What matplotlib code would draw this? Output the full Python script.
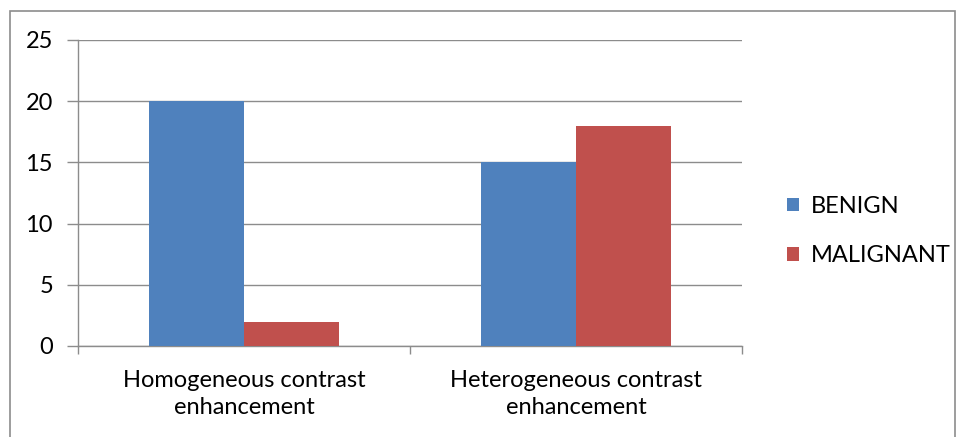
import numpy as np
import matplotlib
matplotlib.use("Agg")
import matplotlib.pyplot as plt
from matplotlib.patches import Rectangle

# enhancement pattern vs. lesion outcome (counts)
categories = ["Homogeneous contrast\nenhancement", "Heterogeneous contrast\nenhancement"]
benign = [20, 15]
malignant = [2, 18]
series_names = ["BENIGN", "MALIGNANT"]
yticks = [0, 5, 10, 15, 20, 25]

BLUE = "#4f81bd"
RED = "#c0504d"
GRID = "#8c8c8c"
FS = 17

plt.rcParams["font.family"] = ["Lato", "DejaVu Sans"]

W, H = 957, 437
fig = plt.figure(figsize=(W / 100, H / 100), dpi=100)

# outer chart border
fig.patches.append(Rectangle((10 / W, -0.05), (W - 12) / W, 1.05 - 11 / H,
                             transform=fig.transFigure, fill=False,
                             edgecolor="#8c8c8c", linewidth=1.2))

ax = fig.add_axes([78 / W, 1 - 346 / H, (742 - 78) / W, (346 - 40) / H])

x = np.arange(len(categories))
bw = 95 / 332
ax.bar(x - bw / 2, benign, bw, color=BLUE, label=series_names[0], zorder=3)
ax.bar(x + bw / 2, malignant, bw, color=RED, label=series_names[1], zorder=3)

ax.set_xlim(-0.5, len(categories) - 0.5)
ax.set_ylim(0, 25)
ax.set_yticks(yticks)
ax.set_yticklabels([str(v) for v in yticks], fontsize=FS)
ax.yaxis.grid(True, color=GRID, linewidth=1.0, zorder=0)
ax.tick_params(axis="y", length=8, color=GRID, width=1.0, pad=10)

# category labels centred, ticks at category boundaries
ax.set_xticks(x)
ax.set_xticklabels(categories, fontsize=FS, linespacing=1.38)
ax.tick_params(axis="x", length=0, pad=17)
ax.set_xticks(np.arange(len(categories) + 1) - 0.5, minor=True)
ax.tick_params(axis="x", which="minor", length=6, color=GRID, width=1.0)

for side in ["top", "right"]:
    ax.spines[side].set_visible(False)
for side in ["left", "bottom"]:
    ax.spines[side].set_color(GRID)
    ax.spines[side].set_linewidth(1.0)

ax.legend(loc="center left", bbox_to_anchor=(766 / W, 1 - 231 / H),
          bbox_transform=fig.transFigure, frameon=False, fontsize=FS,
          handlelength=0.5, handleheight=0.5, handletextpad=0.5,
          labelspacing=1.2)

fig.savefig("out.png", dpi=100)
